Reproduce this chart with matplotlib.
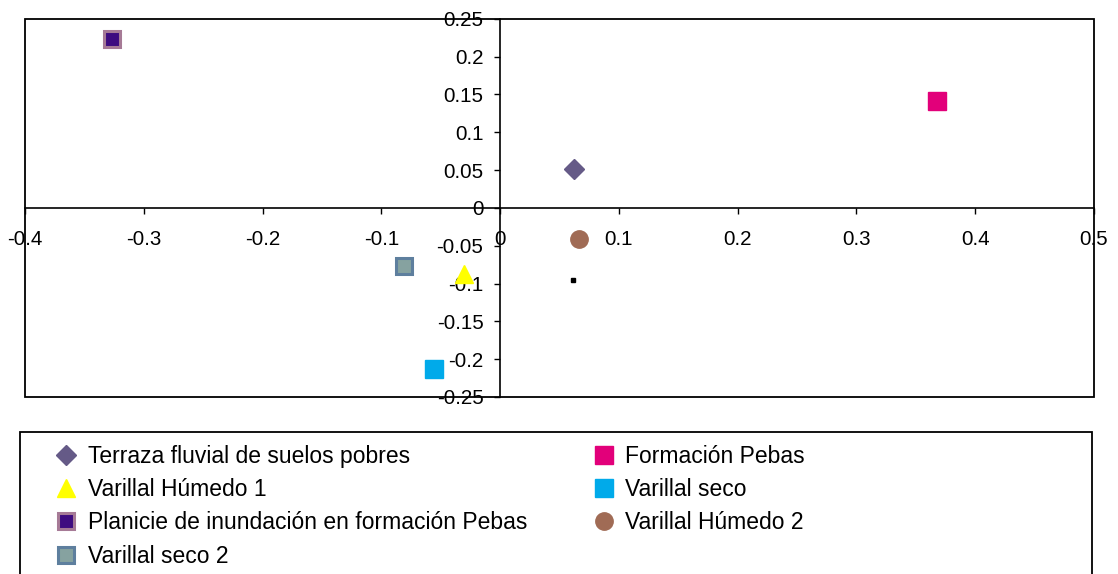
import matplotlib
matplotlib.use("Agg")
import matplotlib.pyplot as plt
from matplotlib.patches import Rectangle

plt.rcParams['font.family'] = ['Liberation Sans', 'DejaVu Sans']

# ---- data ----
series_names = [
    "Terraza fluvial de suelos pobres",
    "Varillal Húmedo 1",
    "Planicie de inundación en formación Pebas",
    "Varillal seco 2",
    "Formación Pebas",
    "Varillal seco",
    "Varillal Húmedo 2",
]
x_values = [0.062, -0.030, -0.327, -0.081, 0.368, -0.056, 0.066]
y_values = [0.052, -0.087, 0.2235, -0.077, 0.141, -0.213, -0.041]
extra_x = [0.061]
extra_y = [-0.095]

x_ticks = [-0.4, -0.3, -0.2, -0.1, 0, 0.1, 0.2, 0.3, 0.4, 0.5]
x_tick_labels = ["-0.4", "-0.3", "-0.2", "-0.1", "0", "0.1", "0.2", "0.3", "0.4", "0.5"]
y_ticks = [-0.25, -0.2, -0.15, -0.1, -0.05, 0, 0.05, 0.1, 0.15, 0.2, 0.25]
y_tick_labels = ["-0.25", "-0.2", "-0.15", "-0.1", "-0.05", "0", "0.05", "0.1", "0.15", "0.2", "0.25"]

# ---- styles ----
styles = [
    dict(marker='D', markersize=10.5, markerfacecolor='#655A87', markeredgecolor='#655A87'),
    dict(marker='^', markersize=13, markerfacecolor='#FFFF00', markeredgecolor='#FFFF00'),
    dict(marker='s', markersize=11.5, markerfacecolor='#3E0C80', markeredgecolor='#A67A96', markeredgewidth=2.2),
    dict(marker='s', markersize=11.5, markerfacecolor='#86A2A0', markeredgecolor='#5E7F9E', markeredgewidth=2.2),
    dict(marker='s', markersize=12.5, markerfacecolor='#E2007A', markeredgecolor='#E2007A'),
    dict(marker='s', markersize=12.5, markerfacecolor='#00AAEA', markeredgecolor='#00AAEA'),
    dict(marker='o', markersize=12.5, markerfacecolor='#A06B55', markeredgecolor='#A06B55'),
]

fig = plt.figure(figsize=(11.18, 5.74), dpi=100)
ax = fig.add_axes([25/1118, 1-397/574, (1094-25)/1118, (397-18.7)/574])

handles = []
for name, xv, yv, st in zip(series_names, x_values, y_values, styles):
    h, = ax.plot([xv], [yv], linestyle='none', label=name, zorder=5, **st)
    handles.append(h)
ax.plot(extra_x, extra_y, linestyle='none', marker='s', markersize=2.2,
        color='black', zorder=5)

ax.set_xlim(-0.4, 0.5)
ax.set_ylim(-0.25, 0.25)

for s in ['top', 'right']:
    ax.spines[s].set_visible(False)
ax.spines['left'].set_position(('data', 0))
ax.spines['bottom'].set_position(('data', 0))
for s in ['left', 'bottom']:
    ax.spines[s].set_color('black')
    ax.spines[s].set_linewidth(1.2)

ax.add_patch(Rectangle((0, 0), 1, 1, transform=ax.transAxes, fill=False,
                       edgecolor='black', linewidth=1.3, clip_on=False, zorder=1))

ax.set_xticks(x_ticks)
ax.set_xticklabels(x_tick_labels)
ax.set_yticks(y_ticks)
ax.set_yticklabels(y_tick_labels)
ax.tick_params(axis='x', direction='out', length=4, width=1, pad=12, labelsize=14.8)
ax.tick_params(axis='y', direction='out', length=4, width=1, pad=8, labelsize=14.8)
for lab in ax.get_xticklabels() + ax.get_yticklabels():
    lab.set_zorder(10)

# legend
leg = fig.legend(handles=handles, loc='upper left', ncol=2, frameon=False,
                 bbox_to_anchor=(55/1118, 1-445/574), fontsize=16.5,
                 handlelength=1.0, handletextpad=0.42, columnspacing=2.87,
                 labelspacing=0.445, borderaxespad=0, borderpad=0)
fig.add_artist(Rectangle((20/1118, 1-600/574), (1092-20)/1118, (600-432)/574,
                         transform=fig.transFigure, fill=False, edgecolor='black',
                         linewidth=1.3, clip_on=False))

fig.savefig('out.png', dpi=100)
